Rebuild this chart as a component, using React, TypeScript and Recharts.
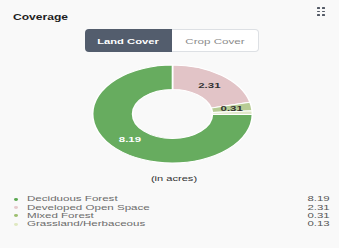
import React from 'react';
import { PieChart, Pie, Cell } from 'recharts';

const title = 'Coverage';
const toggleLabels = ['Land Cover', 'Crop Cover'];
const unitLabel = '(in acres)';
const categories = ['Deciduous Forest', 'Developed Open Space', 'Mixed Forest', 'Grassland/Herbaceous'];
const values = [8.19, 2.31, 0.31, 0.13];
const sliceColors = ['#67ac5f', '#e2c4c7', '#b7cc95', '#e0e8c9'];
const legendColors = ['#5aa850', '#e6c9cc', '#9dbf6f', '#dfe8c0'];
const labelColors = ['#ffffff', '#333333', '#333333', '#333333'];
// drawing order clockwise from 12 o'clock
const pieOrder = [1, 2, 3, 0];

const FONT = '"Liberation Sans", Arial, Helvetica, sans-serif';
const S = 1.42;

type TP = {
  x: number; y: number; size: number; weight?: number | string; color: string;
  align?: 'left' | 'center' | 'right'; sx?: number; children: React.ReactNode;
};

function T({ x, y, size, weight = 400, color, align = 'left', sx = S, children }: TP) {
  const base: React.CSSProperties = {
    position: 'absolute',
    top: y - 0.49 * size,
    fontSize: size,
    lineHeight: size + 'px',
    fontWeight: weight as any,
    color,
    fontFamily: FONT,
    whiteSpace: 'nowrap',
  };
  if (align === 'left') {
    return <div style={{ ...base, left: x, transform: `scaleX(${sx})`, transformOrigin: 'left center' }}>{children}</div>;
  }
  if (align === 'right') {
    return <div style={{ ...base, right: 339 - x, transform: `scaleX(${sx})`, transformOrigin: 'right center' }}>{children}</div>;
  }
  return <div style={{ ...base, left: x, transform: `translateX(-50%) scaleX(${sx})`, transformOrigin: 'center center' }}>{children}</div>;
}

const RADIAN = Math.PI / 180;
const renderLabel = (p: any) => {
  const { cx, cy, midAngle, innerRadius, outerRadius, percent, index, value } = p;
  if (percent < 0.02) return null;
  const r = innerRadius + (outerRadius - innerRadius) / 2;
  const x = cx + r * Math.cos(-midAngle * RADIAN);
  const y = cy + r * Math.sin(-midAngle * RADIAN);
  const cat = pieOrder[index];
  return (
    <text x={x} y={y} textAnchor="middle" dominantBaseline="central" fontSize={7} fontWeight="bold"
      fontFamily={FONT} fill={labelColors[cat]}>
      {value.toFixed(2)}
    </text>
  );
};

export default function App() {
  const pieData = pieOrder.map((i) => ({ name: categories[i], value: values[i] }));
  const dotCols = [317, 322];
  const dotRows = [7, 10.5, 14];
  const rowYs = [199.3, 207.6, 215.9, 224.2];
  const PX = 1.63;
  const cxRef = 172;
  const cyRef = 113.5;
  return (
    <div style={{ position: 'fixed', left: 0, top: 0, width: 339, height: 248, background: '#f9f9f9', overflow: 'hidden' }}>
      <T x={13} y={17} size={8.5} weight={700} color="#1e1e1e">{title}</T>
      {dotCols.map((cx) => dotRows.map((ry) => (
        <div key={cx + '-' + ry} style={{ position: 'absolute', left: cx, top: ry, width: 2.5, height: 1.8, background: '#545a66', borderRadius: 0.5 }} />
      )))}
      <div style={{ position: 'absolute', left: 85, top: 29, width: 87, height: 23, background: '#535d6d', borderRadius: '4px 0 0 4px' }} />
      <div style={{ position: 'absolute', left: 172, top: 29, width: 86, height: 21, background: '#ffffff', border: '1px solid #dde0e4', borderLeft: 'none', borderRadius: '0 4px 4px 0' }} />
      <T x={128} y={41.5} size={8} weight={700} color="#ffffff" align="center" sx={1.4}>{toggleLabels[0]}</T>
      <T x={215} y={41.5} size={8} weight={400} color="#8a8a8a" align="center" sx={1.45}>{toggleLabels[1]}</T>

      <div style={{ position: 'absolute', left: cxRef - 50 * PX, top: cyRef - 50, width: 100, height: 100, transform: `scaleX(${PX})`, transformOrigin: '0 0' }}>
        <PieChart width={100} height={100} margin={{ top: 0, right: 0, bottom: 0, left: 0 }}>
          <Pie data={pieData} dataKey="value" nameKey="name" cx={50} cy={50} innerRadius={24.5} outerRadius={49}
            startAngle={90} endAngle={-270} stroke="#ffffff" strokeWidth={1} isAnimationActive={false}
            labelLine={false} label={renderLabel}>
            {pieOrder.map((i) => <Cell key={i} fill={sliceColors[i]} />)}
          </Pie>
        </PieChart>
      </div>

      <T x={174} y={179} size={7.8} color="#333333" align="center">{unitLabel}</T>

      {categories.map((c, i) => (
        <React.Fragment key={c}>
          <div style={{ position: 'absolute', left: 13.8, top: rowYs[i] - 1.6, width: 4.5, height: 3.2, borderRadius: '50%', background: legendColors[i] }} />
          <T x={26.7} y={rowYs[i]} size={8} color="#6b6b6b" sx={1.445}>{c}</T>
          <T x={330} y={rowYs[i]} size={8} color="#555555" align="right">{values[i].toFixed(2)}</T>
        </React.Fragment>
      ))}
    </div>
  );
}
